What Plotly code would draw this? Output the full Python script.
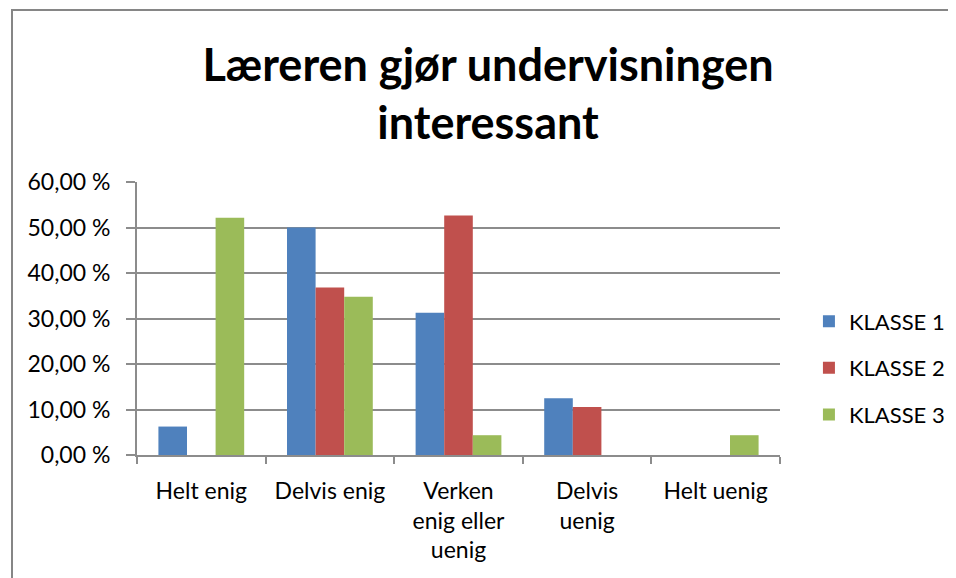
import plotly.graph_objects as go

categories = ["Helt enig", "Delvis enig", "Verken<br>enig eller<br>uenig", "Delvis<br>uenig", "Helt uenig"]
series_names = ["KLASSE 1", "KLASSE 2", "KLASSE 3"]
klasse1 = [6.25, 50.0, 31.25, 12.5, 0.0]
klasse2 = [0.0, 36.84, 52.63, 10.53, 0.0]
klasse3 = [52.17, 34.78, 4.35, 0.0, 4.35]
colors = ["#4F81BD", "#C0504D", "#9BBB59"]
tick_vals = [0, 10, 20, 30, 40, 50, 60]
tick_text = ["0,00 %", "10,00 %", "20,00 %", "30,00 %", "40,00 %", "50,00 %", "60,00 %"]
title_text = "Læreren gjør undervisningen<br>interessant"

FONT = "Lato, 'Open Sans', sans-serif"

fig = go.Figure()
for i, (name, vals) in enumerate(zip(series_names, [klasse1, klasse2, klasse3])):
    fig.add_trace(go.Bar(
        x=categories, y=vals, name=name,
        marker=dict(color=colors[i], line=dict(width=0)),
        legendgroup=name,
    ))

fig.update_layout(
    width=956, height=578,
    margin=dict(l=129, r=184, t=174, b=131),
    paper_bgcolor="white", plot_bgcolor="white",
    barmode="group", bargap=0.333, bargroupgap=0,
    font=dict(family=FONT, size=23, color="#000000"),
    title=dict(
        text=title_text,
        font=dict(family=FONT, size=45, color="#000000", weight="bold"),
        x=0.546, xanchor="center", xref="paper",
        y=0.874, yanchor="top", yref="container",
    ),
    legend=dict(
        x=1.045, xanchor="left", y=0.319, yanchor="middle",
        font=dict(family=FONT, size=22),
        traceorder="grouped", tracegroupgap=15,
        itemwidth=30,
    ),
    showlegend=True,
)

fig.update_yaxes(
    range=[0, 60], tickvals=tick_vals, ticktext=tick_text,
    showgrid=True, gridcolor="#8C8C8C", gridwidth=2,
    showline=True, linecolor="#8C8C8C", linewidth=2,
    ticks="outside", ticklen=9, tickcolor="#8C8C8C", tickwidth=2,
    ticklabelstandoff=11,
    zeroline=False, fixedrange=True,
)
fig.update_xaxes(
    showline=True, linecolor="#8C8C8C", linewidth=2,
    ticks="outside", ticklen=7, tickcolor="#8C8C8C", tickwidth=2,
    tickson="boundaries", showgrid=False,
    ticklabelstandoff=14,
)

fig.add_shape(
    type="rect", xref="paper", yref="paper",
    x0=-0.1944, x1=1.6, y0=-0.6, y1=1.63,
    line=dict(color="#868686", width=2), fillcolor="rgba(0,0,0,0)", layer="below",
)

fig.write_html("out.html")
